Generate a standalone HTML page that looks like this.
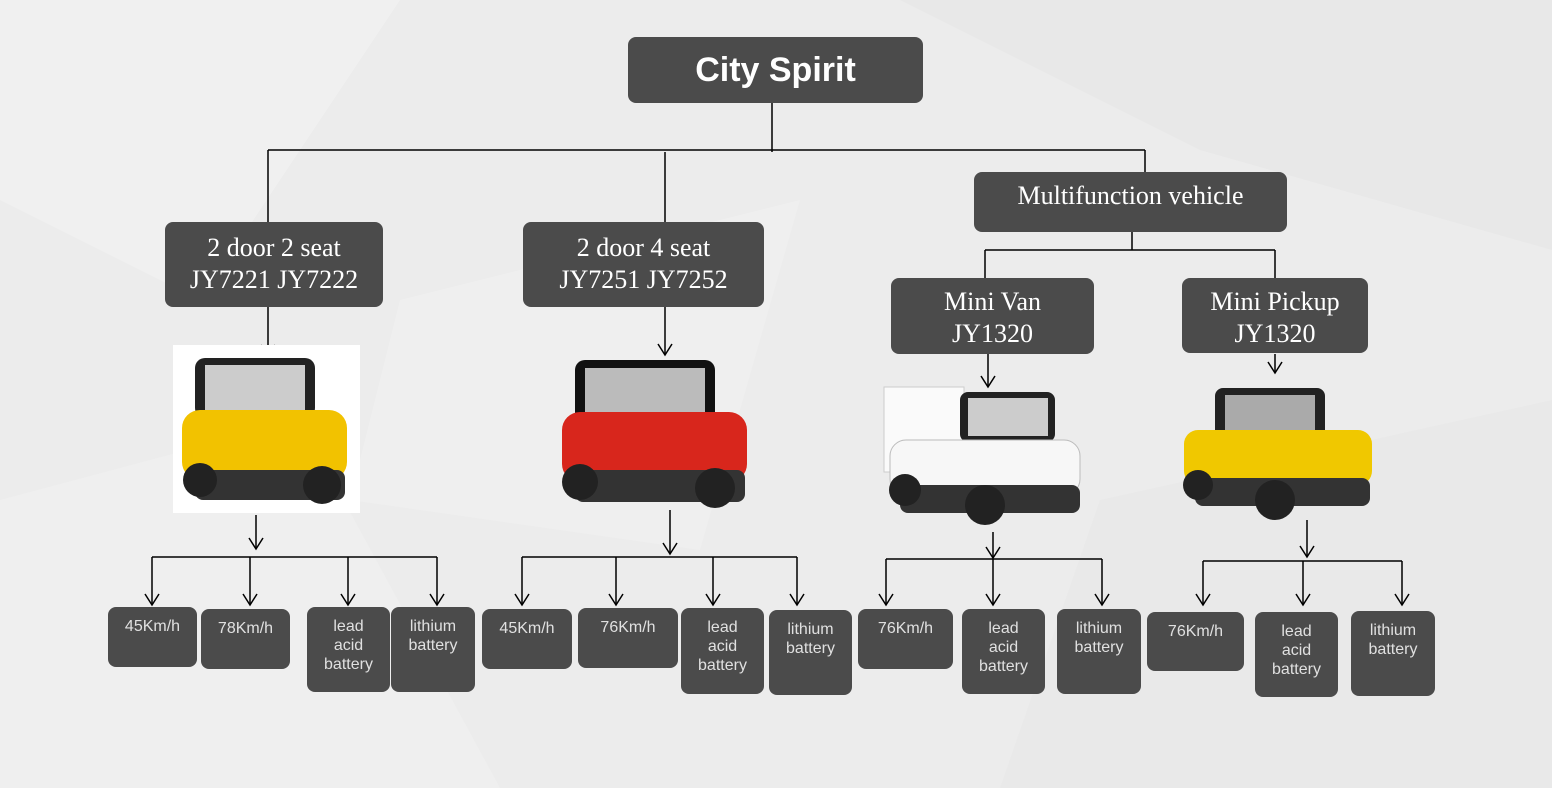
<!DOCTYPE html>
<html><head><meta charset="utf-8"><style>
body{margin:0;width:1552px;height:788px;overflow:hidden;background:#ececec;position:relative;font-family:"Liberation Sans",sans-serif}
.b{position:absolute;background:#4b4b4b;border-radius:8px;color:#fff;text-align:center;box-sizing:border-box}
.s{font-family:"Liberation Serif",serif;font-size:26px;line-height:32px;padding-top:10px}
.m{color:#e0e0e0;font-size:16px;line-height:19px;padding-top:10px}
svg{position:absolute;left:0;top:0}
</style></head><body>
<svg width="1552" height="788">
<polygon points="0,0 400,0 200,300 0,200" fill="#f0f0f0"/>
<polygon points="900,0 1552,0 1552,250 1200,150" fill="#e8e8e8"/>
<polygon points="0,500 300,420 500,788 0,788" fill="#efefef"/>
<polygon points="1100,500 1552,400 1552,788 1000,788" fill="#e9e9e9"/>
<polygon points="400,300 800,200 700,550 350,500" fill="#efefef"/>
<g stroke="#000" stroke-width="1.5" fill="none">
<path d="M772 103V152M268 150H1145M268 150V222M665 152V222M1145 150V172"/>
<path d="M1132 232V250M985 250H1275M985 250V278M1275 250V278"/>
<path d="M268 307V355M665 307V354M988 354V386M1275 354V372M256 515V548M670 510V553M993 532V557M1307 520V556"/>
<path d="M152 557H437M152 557V604M250 557V604M348 557V604M437 557V604"/>
<path d="M522 557H797M522 557V604M616 557V604M713 557V604M797 557V604"/>
<path d="M886 559H1102M886 559V604M993 559V604M1102 559V604"/>
<path d="M1203 561H1402M1203 561V604M1303 561V604M1402 561V604"/>
<path d="M261 345l7 11 7-11M658 344l7 11 7-11M981 376l7 11 7-11M1268 362l7 11 7-11M249 538l7 11 7-11M663 543l7 11 7-11M986 547l7 11 7-11M1300 546l7 11 7-11"/>
<path d="M145 594l7 11 7-11M243 594l7 11 7-11M341 594l7 11 7-11M430 594l7 11 7-11M515 594l7 11 7-11M609 594l7 11 7-11M706 594l7 11 7-11M790 594l7 11 7-11M879 594l7 11 7-11M986 594l7 11 7-11M1095 594l7 11 7-11M1196 594l7 11 7-11M1296 594l7 11 7-11M1395 594l7 11 7-11"/>
</g>
<rect x="173" y="345" width="187" height="168" fill="#fff"/>
<g><rect x="195" y="358" width="120" height="60" rx="10" fill="#222"/><rect x="205" y="365" width="100" height="45" fill="#ccc"/><rect x="182" y="410" width="165" height="70" rx="18" fill="#f2c200"/><rect x="195" y="470" width="150" height="30" rx="8" fill="#333"/><circle cx="200" cy="480" r="17" fill="#222"/><circle cx="322" cy="485" r="19" fill="#222"/></g>
<g><rect x="575" y="360" width="140" height="62" rx="10" fill="#111"/><rect x="585" y="368" width="120" height="45" fill="#bbb"/><rect x="562" y="412" width="185" height="70" rx="18" fill="#d8261c"/><rect x="575" y="470" width="170" height="32" rx="8" fill="#333"/><circle cx="580" cy="482" r="18" fill="#222"/><circle cx="715" cy="488" r="20" fill="#222"/></g>
<g><rect x="884" y="387" width="80" height="85" fill="#fafafa" stroke="#ccc"/><rect x="960" y="392" width="95" height="50" rx="8" fill="#222"/><rect x="968" y="398" width="80" height="38" fill="#ccc"/><rect x="890" y="440" width="190" height="55" rx="16" fill="#f7f7f7" stroke="#bbb"/><rect x="900" y="485" width="180" height="28" rx="8" fill="#333"/><circle cx="905" cy="490" r="16" fill="#222"/><circle cx="985" cy="505" r="20" fill="#222"/></g>
<g><rect x="1215" y="388" width="110" height="50" rx="8" fill="#222"/><rect x="1225" y="395" width="90" height="38" fill="#aaa"/><rect x="1184" y="430" width="188" height="55" rx="14" fill="#f0c800"/><rect x="1195" y="478" width="175" height="28" rx="8" fill="#333"/><circle cx="1198" cy="485" r="15" fill="#222"/><circle cx="1275" cy="500" r="20" fill="#222"/></g>
</svg>
<div class="b" style="left:628px;top:37px;width:295px;height:66px;font-size:34px;font-weight:bold;line-height:66px">City Spirit</div>
<div class="b s" style="left:165px;top:222px;width:218px;height:85px">2 door 2 seat<br>JY7221 JY7222</div>
<div class="b s" style="left:523px;top:222px;width:241px;height:85px">2 door 4 seat<br>JY7251 JY7252</div>
<div class="b s" style="left:974px;top:172px;width:313px;height:60px;padding-top:8px">Multifunction vehicle</div>
<div class="b s" style="left:891px;top:278px;width:203px;height:76px;padding-top:8px">Mini Van<br>JY1320</div>
<div class="b s" style="left:1182px;top:278px;width:186px;height:75px;padding-top:8px">Mini Pickup<br>JY1320</div>
<div class="b m" style="left:108px;top:607px;width:89px;height:60px">45Km/h</div>
<div class="b m" style="left:201px;top:609px;width:89px;height:60px">78Km/h</div>
<div class="b m" style="left:307px;top:607px;width:83px;height:85px">lead<br>acid<br>battery</div>
<div class="b m" style="left:391px;top:607px;width:84px;height:85px">lithium<br>battery</div>
<div class="b m" style="left:482px;top:609px;width:90px;height:60px">45Km/h</div>
<div class="b m" style="left:578px;top:608px;width:100px;height:60px">76Km/h</div>
<div class="b m" style="left:681px;top:608px;width:83px;height:86px">lead<br>acid<br>battery</div>
<div class="b m" style="left:769px;top:610px;width:83px;height:85px">lithium<br>battery</div>
<div class="b m" style="left:858px;top:609px;width:95px;height:60px">76Km/h</div>
<div class="b m" style="left:962px;top:609px;width:83px;height:85px">lead<br>acid<br>battery</div>
<div class="b m" style="left:1057px;top:609px;width:84px;height:85px">lithium<br>battery</div>
<div class="b m" style="left:1147px;top:612px;width:97px;height:59px">76Km/h</div>
<div class="b m" style="left:1255px;top:612px;width:83px;height:85px">lead<br>acid<br>battery</div>
<div class="b m" style="left:1351px;top:611px;width:84px;height:85px">lithium<br>battery</div>
</body></html>
